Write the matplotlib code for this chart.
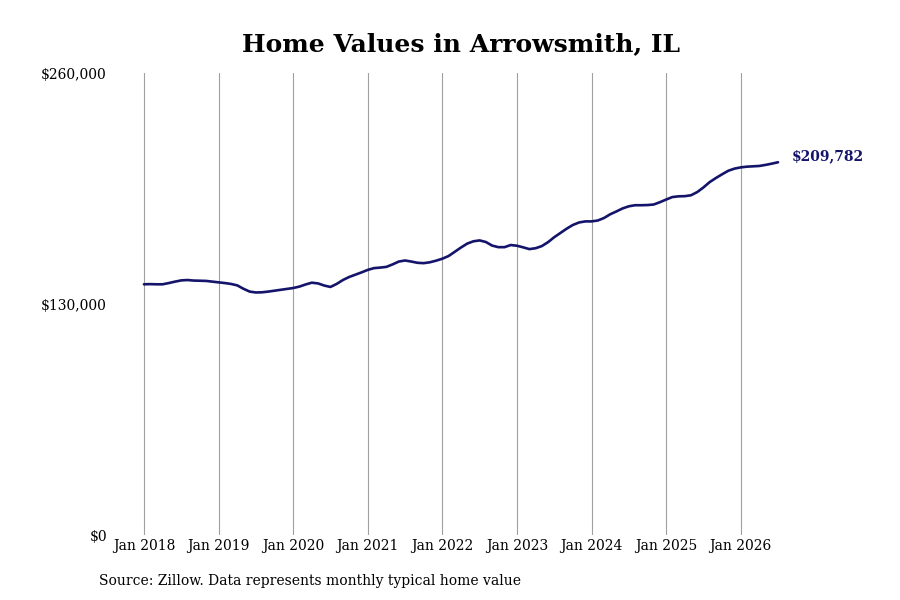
import numpy as np
import matplotlib.pyplot as plt

# Monthly typical home value, Jan 2018 - Jul 2026
values_2018 = [141100, 141200, 141100, 141100, 141800, 142600, 143300, 143500, 143200, 143100, 143000, 142600]
values_2019 = [142200, 141800, 141300, 140500, 138600, 137000, 136500, 136600, 137000, 137500, 138000, 138500]
values_2020 = [139000, 139800, 141000, 142000, 141600, 140400, 139600, 141300, 143500, 145200, 146500, 147800]
values_2021 = [149200, 150200, 150500, 150900, 152300, 153900, 154500, 153900, 153200, 153000, 153500, 154400]
values_2022 = [155500, 157000, 159400, 161800, 164000, 165300, 165800, 164900, 162900, 162000, 162000, 163200]
values_2023 = [162800, 161900, 160900, 161400, 162600, 164800, 167600, 170000, 172400, 174500, 175900, 176500]
values_2024 = [176500, 177000, 178400, 180500, 182100, 183800, 185000, 185600, 185600, 185700, 186000, 187300]
values_2025 = [188800, 190200, 190600, 190700, 191200, 193000, 195600, 198600, 200900, 203000, 205000, 206200]
values_2026 = [206900, 207300, 207500, 207700, 208300, 209000, 209782]

values = (values_2018 + values_2019 + values_2020 + values_2021 + values_2022
          + values_2023 + values_2024 + values_2025 + values_2026)
months = np.arange(len(values))

tick_labels = ['Jan 2018', 'Jan 2019', 'Jan 2020', 'Jan 2021', 'Jan 2022',
               'Jan 2023', 'Jan 2024', 'Jan 2025', 'Jan 2026']
y_ticks = [0, 130000, 260000]

line_color = '#14146b'

plt.rcParams['font.family'] = 'DejaVu Serif'

fig = plt.figure(figsize=(9, 6), dpi=100)
ax = fig.add_axes([0.125, 0.1083, 0.745, 0.77])

ax.plot(months, values, color=line_color, linewidth=1.9, solid_capstyle='round')

# Vertical grid lines at each January
ax.set_xticks(np.arange(0, 12 * len(tick_labels), 12))
ax.set_xticklabels(tick_labels, fontsize=10)
ax.xaxis.grid(True, color='#a0a0a0', linewidth=0.8)
ax.set_axisbelow(True)

ax.set_yticks(y_ticks)
ax.set_yticklabels(['${:,.0f}'.format(v) for v in y_ticks], fontsize=10)
ax.tick_params(axis='both', length=0)
ax.tick_params(axis='x', pad=3)
ax.tick_params(axis='y', pad=4)

ax.set_xlim(-5.06, 102.8)
ax.set_ylim(0, 260000)
for s in ax.spines.values():
    s.set_visible(False)

# End label
ax.annotate('${:,.0f}'.format(values[-1]), xy=(months[-1], values[-1]),
            xytext=(10, 4.5), textcoords='offset points', fontsize=10,
            fontweight='bold', color=line_color, va='center', ha='left')

fig.text(461 / 900, 1 - 44 / 600, 'Home Values in Arrowsmith, IL',
         ha='center', va='center', fontsize=18, fontweight='bold')
fig.text(99 / 900, 1 - 581 / 600, 'Source: Zillow. Data represents monthly typical home value',
         ha='left', va='center', fontsize=10)

fig.savefig('out.png', dpi=100)
